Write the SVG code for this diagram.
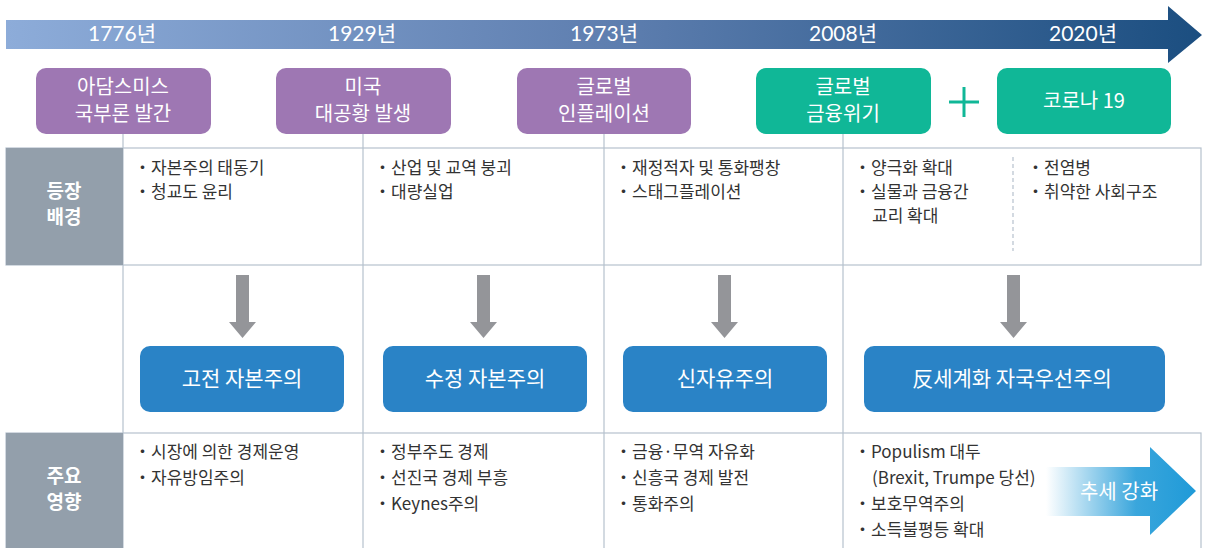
<svg xmlns="http://www.w3.org/2000/svg" width="1207" height="548" viewBox="0 0 1207 548">
<defs>
<linearGradient id="tl" x1="6" y1="0" x2="1202" y2="0" gradientUnits="userSpaceOnUse">
<stop offset="0" stop-color="#8dacd9"/>
<stop offset="0.5" stop-color="#5f7fb0"/>
<stop offset="1" stop-color="#1b4e80"/>
</linearGradient>
<linearGradient id="tr" x1="1046" y1="0" x2="1196" y2="0" gradientUnits="userSpaceOnUse">
<stop offset="0" stop-color="#ffffff"/>
<stop offset="0.6" stop-color="#3aa6dc"/>
<stop offset="1" stop-color="#1f9ad8"/>
</linearGradient>
</defs>
<style>
.yr{font-family:Lato,"Noto Sans CJK KR",sans-serif;font-size:21px;fill:#fff;text-anchor:middle}
.bt{font-family:"Noto Sans CJK KR",sans-serif;font-size:20px;fill:#fff;text-anchor:middle}
.bb{font-family:"Noto Sans CJK KR",sans-serif;font-size:21px;fill:#fff;text-anchor:middle}
.pur{fill:#9e77b3}
.teal{fill:#10b797}
.blue{fill:#2a83c6}
.lab{fill:#939fab}
.lt{font-family:"Noto Sans CJK KR",sans-serif;font-size:19px;font-weight:bold;fill:#fff;text-anchor:middle}
.tx{font-family:"Noto Sans CJK KR",sans-serif;font-size:17px;fill:#333}
.grid{stroke:#b6c1cd;stroke-width:1.2;fill:none}
.arr{fill:#949599}
</style>

<g id="timeline">
<polygon points="6,20 1168,20 1168,6 1202,35 1168,63 1168,49 6,49" fill="url(#tl)"/>
<text class="yr" x="122" y="41">1776년</text>
<text class="yr" x="362" y="41">1929년</text>
<text class="yr" x="604" y="41">1973년</text>
<text class="yr" x="843" y="41">2008년</text>
<text class="yr" x="1083" y="41">2020년</text>
</g>

<g id="grid">
<rect class="grid" x="6" y="148" width="1195" height="117"/>
<rect class="grid" x="6" y="433" width="1195" height="125"/>
<line class="grid" x1="123" y1="134" x2="123" y2="548"/>
<line class="grid" x1="363" y1="134" x2="363" y2="548"/>
<line class="grid" x1="604" y1="134" x2="604" y2="548"/>
<line class="grid" x1="843" y1="134" x2="843" y2="548"/>
<line x1="1013" y1="157" x2="1013" y2="251" stroke="#b6c1cd" stroke-width="1.2" stroke-dasharray="4,3"/>
</g>

<g id="event-1776">
<rect class="pur" x="36" y="68" width="175" height="66" rx="10"/>
<text class="bt" x="123" y="94">아담스미스</text>
<text class="bt" x="123" y="121">국부론 발간</text>
</g>
<g id="event-1929">
<rect class="pur" x="276" y="68" width="175" height="66" rx="10"/>
<text class="bt" x="363" y="94">미국</text>
<text class="bt" x="363" y="121">대공황 발생</text>
</g>
<g id="event-1973">
<rect class="pur" x="517" y="68" width="174" height="66" rx="10"/>
<text class="bt" x="604" y="94">글로벌</text>
<text class="bt" x="604" y="121">인플레이션</text>
</g>
<g id="event-2008">
<rect class="teal" x="756" y="68" width="175" height="66" rx="10"/>
<text class="bt" x="843" y="94">글로벌</text>
<text class="bt" x="843" y="121">금융위기</text>
</g>
<g id="plus">
<line x1="949" y1="102" x2="979" y2="102" stroke="#10b797" stroke-width="3"/>
<line x1="964" y1="87" x2="964" y2="117" stroke="#10b797" stroke-width="3"/>
</g>
<g id="event-2020">
<rect class="teal" x="997" y="68" width="174" height="66" rx="10"/>
<text class="bt" x="1084" y="108">코로나 19</text>
</g>

<g id="label-background">
<rect class="lab" x="6" y="148" width="117" height="117"/>
<text class="lt" x="64" y="198">등장</text>
<text class="lt" x="64" y="224">배경</text>
</g>
<g id="bg-1">
<text class="tx" x="134" y="174">・자본주의 태동기</text>
<text class="tx" x="134" y="198">・청교도 윤리</text>
</g>
<g id="bg-2">
<text class="tx" x="374" y="174">・산업 및 교역 붕괴</text>
<text class="tx" x="374" y="198">・대량실업</text>
</g>
<g id="bg-3">
<text class="tx" x="615" y="174">・재정적자 및 통화팽창</text>
<text class="tx" x="615" y="198">・스태그플레이션</text>
</g>
<g id="bg-4">
<text class="tx" x="854" y="174">・양극화 확대</text>
<text class="tx" x="854" y="198">・실물과 금융간</text>
<text class="tx" x="872" y="222">교리 확대</text>
</g>
<g id="bg-5">
<text class="tx" x="1027" y="174">・전염병</text>
<text class="tx" x="1027" y="198">・취약한 사회구조</text>
</g>

<g id="connectors">
<polygon class="arr" points="236,275 249,275 249,322 256,322 242.5,338 229,322 236,322"/>
<polygon class="arr" points="477,275 490,275 490,322 497,322 483.5,338 470,322 477,322"/>
<polygon class="arr" points="718,275 731,275 731,322 738,322 724.5,338 711,322 718,322"/>
<polygon class="arr" points="1007,275 1020,275 1020,322 1027,322 1013.5,338 1000,322 1007,322"/>
</g>

<g id="classical">
<rect class="blue" x="140" y="346" width="204" height="66" rx="10"/>
<text class="bb" x="242" y="386">고전 자본주의</text>
</g>
<g id="modified">
<rect class="blue" x="383" y="346" width="204" height="66" rx="10"/>
<text class="bb" x="485" y="386">수정 자본주의</text>
</g>
<g id="neoliberal">
<rect class="blue" x="623" y="346" width="204" height="66" rx="10"/>
<text class="bb" x="725" y="386">신자유주의</text>
</g>
<g id="anti-globalization">
<rect class="blue" x="864" y="346" width="301" height="66" rx="10"/>
<text class="bb" x="1012" y="386">反세계화 자국우선주의</text>
</g>

<g id="label-impact">
<rect class="lab" x="6" y="433" width="117" height="115"/>
<text class="lt" x="64" y="483">주요</text>
<text class="lt" x="64" y="509">영향</text>
</g>
<g id="im-1">
<text class="tx" x="134" y="458">・시장에 의한 경제운영</text>
<text class="tx" x="134" y="484">・자유방임주의</text>
</g>
<g id="im-2">
<text class="tx" x="374" y="458">・정부주도 경제</text>
<text class="tx" x="374" y="484">・선진국 경제 부흥</text>
<text class="tx" x="374" y="510">・Keynes주의</text>
</g>
<g id="im-3">
<text class="tx" x="615" y="458">・금융·무역 자유화</text>
<text class="tx" x="615" y="484">・신흥국 경제 발전</text>
<text class="tx" x="615" y="510">・통화주의</text>
</g>
<g id="im-4">
<text class="tx" x="854" y="458">・Populism 대두</text>
<text class="tx" x="872" y="484">(Brexit, Trumpe 당선)</text>
<text class="tx" x="854" y="510">・보호무역주의</text>
<text class="tx" x="854" y="536">・소득불평등 확대</text>
</g>
<g id="trend">
<polygon points="1046,467 1150,467 1150,447 1196,491 1150,535 1150,516 1046,516" fill="url(#tr)"/>
<text class="bb" x="1119" y="499" style="font-size:20px">추세 강화</text>
</g>
</svg>
